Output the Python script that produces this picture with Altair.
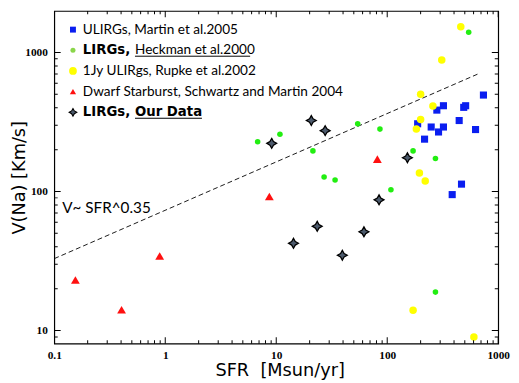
import altair as alt
import pandas as pd

# ---------------- data ----------------
martin_sfr = [188, 280, 321, 249, 290, 321, 217, 445, 489, 509, 736, 625, 467, 385]
martin_v = [307, 385, 414, 291, 268, 291, 238, 324, 403, 414, 494, 279, 113, 95]

heckman_sfr = [6.8, 10.8, 21.4, 27, 33.9, 54.2, 86, 108, 171, 272, 272, 542]
heckman_v = [228, 258, 196, 127, 121, 307, 281, 103, 196, 173, 18.9, 1399]

rupke_sfr = [460, 310, 200, 258, 200, 183, 195, 220, 171, 604]
rupke_v = [1534, 883, 500, 412, 330, 282, 136, 119, 14.0, 8.97]

dwarf_sfr = [0.155, 0.404, 0.891, 8.67, 81.5]
dwarf_v = [23.1, 14.1, 34.4, 92, 171]

ours_sfr = [9.1, 20.7, 27.6, 14.3, 23.4, 39.4, 61.7, 84.4, 152]
ours_v = [222, 324, 274, 42.4, 56.2, 34.8, 51.3, 87.1, 175]

fit_sfr = [0.1, 656]
fit_v = [32.9, 700]

x_major = [0.1, 1, 10, 100, 1000]
x_minor = [0.2, 0.3, 0.4, 0.5, 0.6, 0.7, 0.8, 0.9,
           2, 3, 4, 5, 6, 7, 8, 9,
           20, 30, 40, 50, 60, 70, 80, 90,
           200, 300, 400, 500, 600, 700, 800, 900]
y_major = [10, 100, 1000]
y_minor = [9, 20, 30, 40, 50, 60, 70, 80, 90,
           200, 300, 400, 500, 600, 700, 800, 900]

legend_plain = ["ULIRGs, Martin et al.2005", "", "1Jy ULIRgs, Rupke et al.2002",
                "Dwarf Starburst, Schwartz and Martin 2004", ""]
legend_bold = ["", "LIRGs,", "", "", "LIRGs,"]
legend_tail = ["", "Heckman et al.2000", "", "", "Our Data"]
annotation = "V~ SFR^0.35"

# ---------------- styling ----------------
W, H = 451, 338
STAR = "M0,-1L0.36,-0.36L1,0L0.36,0.36L0,1L-0.36,0.36L-1,0L-0.36,-0.36Z"
BLUE, GREEN, YELLOW, RED, SLATE = "#0a1ef0", "#22ee11", "#ffff00", "#ff1010", "#4c5a6c"
SANS = "Lato"

xs = alt.Scale(type="log", domain=[0.1, 1000], nice=False)
ys = alt.Scale(type="log", domain=[8.05, 1990], nice=False)

x_axis = alt.Axis(values=x_major, format="~g", ticks=False, domain=False, grid=False,
                  labelFont="Liberation Serif", labelFontWeight="bold", labelFontSize=11.5,
                  labelColor="black", labelPadding=6, labelFlush=False,
                  title="SFR\u00a0\u00a0[Msun/yr]", titleFont="DejaVu Sans", titleFontSize=18,
                  titleFontWeight="normal", titleColor="black", titleX=229, titleY=32,
                  titleBaseline="alphabetic")
y_axis = alt.Axis(values=y_major, format="~g", ticks=False, domain=False, grid=False,
                  labelFont="Liberation Serif", labelFontWeight="bold", labelFontSize=11.5,
                  labelColor="black", labelPadding=7, labelFlush=False,
                  title="V(Na) [Km/s]", titleFont="DejaVu Sans", titleFontSize=18,
                  titleFontWeight="normal", titleColor="black", titleX=-35, titleY=H / 2,
                  titleBaseline="middle", titleAngle=270)

fit = alt.Chart(pd.DataFrame({"sfr": fit_sfr, "v": fit_v})).mark_line(
    color="black", strokeDash=[5, 3], strokeWidth=0.9
).encode(x=alt.X("sfr:Q", scale=xs, axis=x_axis), y=alt.Y("v:Q", scale=ys, axis=y_axis))


def pts(sfr, v, shape, color, size, stroke=None, sw=0):
    kw = dict(shape=shape, filled=True, color=color, size=size, opacity=1)
    if stroke:
        kw.update(stroke=stroke, strokeWidth=sw)
    return alt.Chart(pd.DataFrame({"sfr": sfr, "v": v})).mark_point(**kw).encode(
        x=alt.X("sfr:Q", scale=xs, axis=None), y=alt.Y("v:Q", scale=ys, axis=None))


layers = [fit,
          pts(martin_sfr, martin_v, "square", BLUE, 52),
          pts(heckman_sfr, heckman_v, "circle", GREEN, 32),
          pts(rupke_sfr, rupke_v, "circle", YELLOW, 58),
          pts(dwarf_sfr, dwarf_v, "triangle-up", RED, 80),
          pts(ours_sfr, ours_v, STAR, SLATE, 100, "black", 1.3)]

# inward ticks on all four sides
xt = pd.DataFrame({"t": x_major + x_minor,
                   "k": ["major"] * len(x_major) + ["minor"] * len(x_minor)})
yt = pd.DataFrame({"t": y_major + y_minor,
                   "k": ["major"] * len(y_major) + ["minor"] * len(y_minor)})
tsize = alt.Size("k:O", scale=alt.Scale(domain=["major", "minor"], range=[13, 7]), legend=None)
for yy in (0, H):
    layers.append(alt.Chart(xt).mark_tick(clip=True, color="black", thickness=1, opacity=1).encode(
        x=alt.X("t:Q", scale=xs, axis=None), y=alt.value(yy), size=tsize))
for xx in (0, W):
    layers.append(alt.Chart(yt).mark_tick(clip=True, color="black", thickness=1, opacity=1).encode(
        y=alt.Y("t:Q", scale=ys, axis=None), x=alt.value(xx), size=tsize))

# annotation
layers.append(alt.Chart(pd.DataFrame({"sfr": [0.118], "v": [75.9], "t": [annotation]})).mark_text(
    font=SANS, fontSize=15.5, align="left", baseline="middle", color="black").encode(
    x=alt.X("sfr:Q", scale=xs, axis=None), y=alt.Y("v:Q", scale=ys, axis=None), text="t:N"))

# legend
rows_y = [19, 40, 61, 82, 103]
sym = [("square", BLUE, 36, None), ("circle", "#8ad64a", 26, None), ("circle", YELLOW, 62, None),
       ("triangle-up", RED, 40, None), (STAR, SLATE, 60, "black")]
one = pd.DataFrame({"a": [0]})
for i, yv in enumerate(rows_y):
    shape, col, sz, st = sym[i]
    kw = dict(shape=shape, filled=True, color=col, size=sz, opacity=1)
    if st:
        kw.update(stroke=st, strokeWidth=1.1)
    layers.append(alt.Chart(one).mark_point(**kw).encode(x=alt.value(19), y=alt.value(yv)))
    if legend_plain[i]:
        layers.append(alt.Chart(one).mark_text(text=legend_plain[i], font=SANS, fontSize=13.8,
                                                align="left", baseline="middle", color="black")
                      .encode(x=alt.value(29), y=alt.value(yv)))
    if legend_bold[i]:
        layers.append(alt.Chart(one).mark_text(text=legend_bold[i], font="DejaVu Sans", fontWeight="bold",
                                                fontSize=13.5, align="left", baseline="middle", color="black")
                      .encode(x=alt.value(29), y=alt.value(yv)))
    if legend_tail[i]:
        bold = i == 4
        layers.append(alt.Chart(one).mark_text(text=legend_tail[i], font="DejaVu Sans" if bold else SANS,
                                                fontWeight="bold" if bold else "normal",
                                                fontSize=13.5 if bold else 13.8, align="left",
                                                baseline="middle", color="black")
                      .encode(x=alt.value(82), y=alt.value(yv)))
        x2 = 150 if bold else 199
        layers.append(alt.Chart(one).mark_rule(color="black", strokeWidth=1.2 if bold else 1).encode(
            x=alt.value(82), x2=alt.value(x2), y=alt.value(yv + 6)))

chart = alt.layer(*layers).resolve_axis(x="independent", y="independent").properties(
    width=W, height=H,
    autosize=alt.AutoSizeParams(type="none"),
    padding={"left": 47, "top": 0, "right": 13, "bottom": 36},
    background="white",
).configure_view(stroke="black", strokeWidth=1.2)

chart.save("out.html", embed_options={"renderer": "svg", "actions": False})
